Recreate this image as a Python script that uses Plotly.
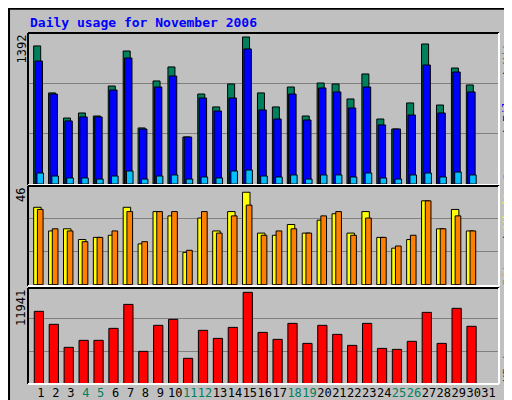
import plotly.graph_objects as go

days = list(range(1, 32))
hits = [1281, 845, 612, 659, 631, 909, 1234, 520, 956, 1086, 436, 835, 715, 928, 1364,
        845, 715, 900, 631, 937, 928, 789, 1021, 603, 510, 752, 1299, 733, 1076, 919, None]
files = [1141, 835, 585, 622, 622, 872, 1169, 510, 900, 1002, 436, 798, 677, 798, 1253,
         687, 603, 835, 594, 891, 854, 705, 900, 548, 510, 640, 1104, 659, 1039, 854, None]
pages = [102, 74, 56, 56, 46, 74, 121, 46, 74, 84, 46, 65, 56, 121, 130,
         74, 65, 84, 46, 84, 84, 65, 102, 56, 46, 84, 102, 65, 111, 84, None]
visits = [36, 25, 26, 21, 22, 23, 36, 19, 34, 32, 15, 31, 25, 34, 43,
          24, 23, 28, 24, 30, 33, 24, 34, 22, 17, 21, 39, 26, 35, 25, None]
sites = [35, 26, 25, 20, 22, 25, 34, 20, 34, 34, 16, 34, 24, 32, 37,
         23, 25, 26, 24, 32, 34, 23, 31, 22, 18, 23, 39, 26, 32, 25, None]
kbytes = [8815, 7233, 4430, 5280, 5280, 6740, 9660, 3940, 7110, 7840, 3090, 6500, 5520, 6860, 11130,
          6250, 5400, 7350, 4910, 7110, 6010, 4670, 7350, 4300, 4180, 5160, 8690, 4910, 9180, 6990, None]
weekends = [4, 5, 11, 12, 18, 19, 25, 26]
max_hits, max_visits, max_kbytes = 1392, 46, 11941

ticktext = [f'<span style="color:#00805C">{d}</span>' if d in weekends else str(d) for d in days]

fig = go.Figure()


def bars(y, color, offset, width, xa, ya):
    fig.add_trace(go.Bar(x=days, y=y, offset=offset, width=width, marker_color=color,
                         marker_line=dict(color='black', width=1), xaxis=xa, yaxis=ya,
                         showlegend=False, hoverinfo='x+y'))


bars(hits, '#00805C', -0.49, 0.47, 'x', 'y')
bars(files, '#0000FF', -0.40, 0.50, 'x', 'y')
bars(pages, '#00C0FF', -0.27, 0.44, 'x', 'y')
bars(visits, '#FFFF00', -0.49, 0.50, 'x2', 'y2')
bars(sites, '#FF8000', -0.24, 0.38, 'x2', 'y2')
bars(kbytes, '#FF0000', -0.45, 0.62, 'x3', 'y3')

xdom = [20 / 512, 491 / 512]
xr = [0.13, 31.7]
font = dict(family='DejaVu Sans Mono', size=12, color='black')


def yax(dom, rng, top):
    return dict(domain=dom, range=rng, tickvals=[top / 3, top * 2 / 3], showticklabels=False,
                ticks='', showgrid=True, gridcolor='#808080', gridwidth=1, zeroline=False,
                showline=False, fixedrange=True, automargin=False)


fig.update_layout(
    width=512, height=400, margin=dict(l=0, r=0, t=0, b=0, autoexpand=False),
    paper_bgcolor='#C0C0C0', plot_bgcolor='#C0C0C0', barmode='overlay', font=font,
    xaxis=dict(domain=xdom, range=xr, anchor='y', showticklabels=False, showgrid=False, zeroline=False),
    xaxis2=dict(domain=xdom, range=xr, anchor='y2', showticklabels=False, showgrid=False, zeroline=False),
    xaxis3=dict(domain=xdom, range=xr, anchor='y3', tickvals=days, ticktext=ticktext, tickangle=0,
                showgrid=False, zeroline=False, ticks='', tickfont=font, automargin=False),
    yaxis=yax([0.5575, 0.9375], [-9.3, 1401], max_hits),
    yaxis2=yax([0.305, 0.555], [-0.6, 45.9], max_visits),
    yaxis3=yax([0.06, 0.30], [-37, 11657], max_kbytes),
)

# panel frames: dark top/left, white bottom/right
shapes = [dict(type='rect', xref='paper', yref='paper', x0=0.002, y0=0.002, x1=0.998, y1=0.998,
               line=dict(color='black', width=2))]
for y0, y1 in [(0.5575, 0.9375), (0.305, 0.555), (0.06, 0.30)]:
    shapes += [
        dict(type='line', xref='paper', yref='paper', x0=xdom[0], x1=xdom[1], y0=y1, y1=y1, line=dict(color='black', width=2)),
        dict(type='line', xref='paper', yref='paper', x0=xdom[0], x1=xdom[0], y0=y0, y1=y1, line=dict(color='black', width=2)),
        dict(type='line', xref='paper', yref='paper', x0=xdom[0], x1=xdom[1], y0=y0, y1=y0, line=dict(color='white', width=2)),
        dict(type='line', xref='paper', yref='paper', x0=xdom[1], x1=xdom[1], y0=y0, y1=y1, line=dict(color='white', width=2)),
    ]
fig.update_layout(shapes=shapes)

ann = [dict(text='<b>Daily usage for November 2006</b>', x=20 / 512, y=1 - 14 / 400, xref='paper', yref='paper',
            xanchor='left', yanchor='middle', showarrow=False,
            font=dict(family='DejaVu Sans Mono', size=13, color='#0000FF'))]
for val, ytop in [(max_hits, 0.9375), (max_visits, 0.555), (max_kbytes, 0.30)]:
    ann.append(dict(text=str(val), x=13 / 512, y=ytop, xref='paper', yref='paper', textangle=-90,
                    xanchor='center', yanchor='top', showarrow=False, font=font))
right = [
    ('<span style="color:#00C0FF">Pages</span> / <span style="color:#0000FF">Files</span> / '
     '<span style="color:#00805C">Hits</span>', 0.9375 - 75 / 400),
    ('<span style="color:#FF8000">Sites</span> / <span style="color:#FFFF00">Visits</span>', 0.555 - 50 / 400),
    ('<span style="color:#FF0000">KBytes</span>', 0.30 - 73 / 400),
]
for txt, yc in right:
    ann.append(dict(text=txt, x=500 / 512, y=yc, xref='paper', yref='paper', textangle=-90,
                    xanchor='center', yanchor='middle', showarrow=False, font=font))
fig.update_layout(annotations=ann)

fig.write_html("out.html")
